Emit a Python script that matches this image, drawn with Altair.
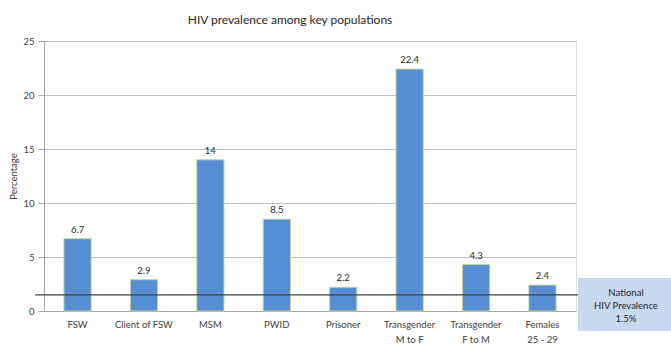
import altair as alt
import pandas as pd

categories = ["FSW", "Client of FSW", "MSM", "PWID", "Prisoner",
              "Transgender|M to F", "Transgender|F to M", "Females|25 - 29"]
values = [6.7, 2.9, 14, 8.5, 2.2, 22.4, 4.3, 2.4]
labels = ["6.7", "2.9", "14", "8.5", "2.2", "22.4", "4.3", "2.4"]
national = 1.5

df = pd.DataFrame({"Population": categories, "Percentage": values, "label": labels})
FONT = "Lato"
FS = 9.5

x = alt.X("Population:N", sort=categories,
          scale=alt.Scale(paddingInner=0.59, paddingOuter=0.3),
          axis=alt.Axis(title="Population", labelAngle=0, labelExpr="split(datum.label, '|')",
                        labelFontSize=FS, labelColor="#404040", labelFont=FONT,
                        titleFont=FONT, titleFontSize=FS, titleFontWeight="normal",
                        titleColor="#404040", ticks=False, domainColor="#A6A6A6",
                        labelPadding=8, titlePadding=10, labelLineHeight=15))
y = alt.Y("Percentage:Q", scale=alt.Scale(domain=[0, 25], nice=False),
          axis=alt.Axis(values=[0, 5, 10, 15, 20, 25], title="Percentage",
                        labelFontSize=FS, labelColor="#404040", labelFont=FONT,
                        titleFont=FONT, titleFontSize=FS, titleFontWeight="normal",
                        titleColor="#404040", gridColor="#BFBFBF", tickColor="#A6A6A6",
                        tickSize=6, domainColor="#A6A6A6", labelPadding=4, titlePadding=4))

bars = alt.Chart(df).mark_bar(color="#558ED5", stroke="#C3D69B", strokeWidth=1).encode(x=x, y=y)
text = alt.Chart(df).mark_text(dy=-9, font=FONT, fontSize=FS, color="#262626").encode(
    x=alt.X("Population:N", sort=categories), y="Percentage:Q", text="label:N")

ndf = pd.DataFrame({"v": [national]})
rule = alt.Chart(ndf).mark_rule(color="#404040", strokeWidth=1.3, clip=False).encode(
    y="v:Q", x=alt.value(-9), x2=alt.value(534))

box = alt.Chart(ndf).mark_rect(color="#C6D9F1", clip=False).encode(
    x=alt.value(534), x2=alt.value(630), y=alt.value(237), y2=alt.value(290))
boxtext = alt.Chart(pd.DataFrame({"t": [["National", "HIV Prevalence", "1.5%"]]})).mark_text(
    font=FONT, fontSize=FS, color="#262626", lineHeight=13, clip=False).encode(
    x=alt.value(582), y=alt.value(252), text="t:N")

chart = alt.layer(bars, text, rule, box, boxtext).properties(
    width=532, height=270,
    title=alt.TitleParams("HIV prevalence among key populations", font=FONT, fontSize=12,
                          fontWeight="normal", color="#262626", anchor="middle", offset=9,
                          dx=-20),
    autosize=alt.AutoSizeParams(type="none"),
    padding={"left": 44, "top": 41, "right": 95, "bottom": 39},
).configure_view(fill="#EFF1E9", stroke=None).configure(background="white")

chart.save("out.html", embed_options={"renderer": "svg", "actions": False})
